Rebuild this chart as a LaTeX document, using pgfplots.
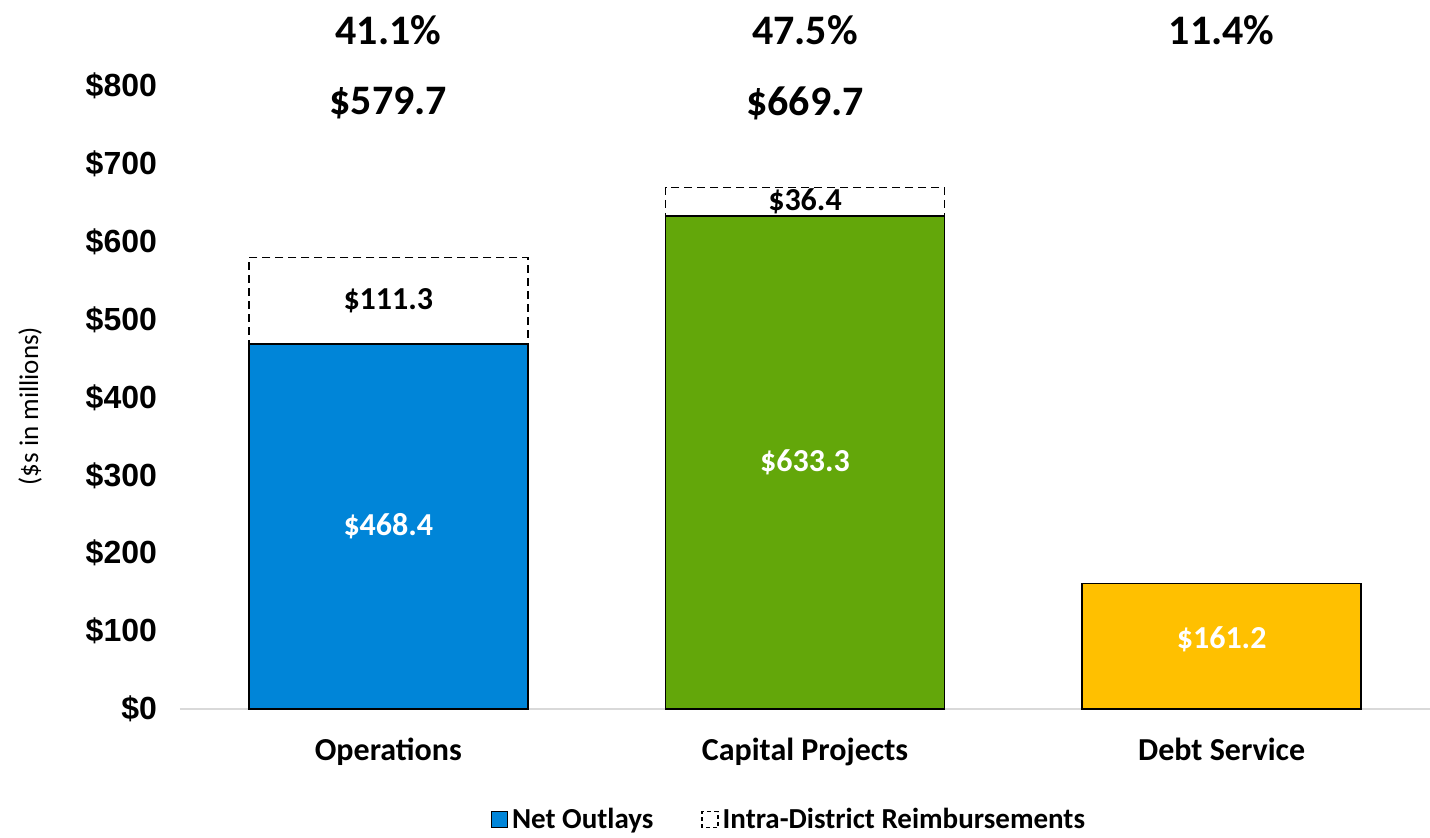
\documentclass[border=0pt]{standalone}
\usepackage{fontspec}
\setmainfont{Carlito}
\newfontfamily\arial{Liberation Sans}
\usepackage{pgfplots}
\pgfplotsset{compat=1.18}
\definecolor{opsblue}{HTML}{0085D8}
\definecolor{capgreen}{HTML}{63A70A}
\definecolor{debtyellow}{HTML}{FFC000}
\definecolor{axisgray}{HTML}{D9D9D9}

\begin{document}
\begin{tikzpicture}
\begin{axis}[name=ax,
    width=625pt, height=311.5pt, scale only axis,
    xmin=-0.5, xmax=2.5, ymin=0, ymax=800,
    ybar, bar width=139.5pt, bar shift=0pt,
    clip=false,
    axis x line*=bottom, axis y line*=left,
    x axis line style={draw=axisgray, line width=1pt},
    y axis line style={draw=none},
    major tick length=0pt, tick style={draw=none},
    xtick={0,1,2},
    xticklabels={Operations, Capital Projects, Debt Service},
    xticklabel style={font=\bfseries\fontsize{16}{19}\selectfont, yshift=-11pt},
    ytick={0,100,...,800},
    yticklabel={\$\pgfmathprintnumber{\tick}},
    /pgf/number format/assume math mode=true,
    yticklabel style={font=\arial\bfseries\fontsize{16}{19}\selectfont, xshift=-8pt},
    legend style={draw=none, fill=none, font=\bfseries\fontsize{14.5}{17}\selectfont,
        at={(rel axis cs:0.488,-0.178)}, anchor=center},
    legend columns=2,
    /tikz/every even column/.append style={column sep=22pt},
    legend image code/.code={\draw[#1] (0pt,-4pt) rectangle (8pt,4pt);},
]
% totals (dashed outline, behind)
\addplot[forget plot, draw=black, fill=white, line width=0.9pt, dash pattern=on 4pt off 2.5pt]
    coordinates {(0,579.7) (1,669.7)};
% net outlays
\addplot[forget plot, draw=black, fill=opsblue, line width=0.8pt] coordinates {(0,468.4)};
\addplot[forget plot, draw=black, fill=capgreen, line width=0.8pt] coordinates {(1,633.3)};
\addplot[forget plot, draw=black, fill=debtyellow, line width=0.8pt] coordinates {(2,161.2)};

\addlegendimage{draw=black, fill=opsblue, line width=0.6pt}
\addlegendentry{Net Outlays}
\addlegendimage{draw=black, fill=white, line width=0.6pt, dash pattern=on 2pt off 1.5pt}
\addlegendentry{Intra-District Reimbursements}

% value labels
\begin{scope}[every node/.style={font=\bfseries\fontsize{16}{19}\selectfont}]
\node[white] at (axis cs:0,234.2) {\$468.4};
\node[white] at (axis cs:1,316.6) {\$633.3};
\node[white] at (axis cs:2,89) {\$161.2};
\node at (axis cs:0,524) {\$111.3};
\node at (axis cs:1,651.5) {\$36.4};
\end{scope}
\begin{scope}[every node/.style={font=\bfseries\fontsize{21}{25}\selectfont}]
\node at (axis cs:0,778) {\$579.7};
\node at (axis cs:1,778) {\$669.7};
\node at (axis cs:0,871.6) {41.1\%};
\node at (axis cs:1,871.6) {47.5\%};
\node at (axis cs:2,871.6) {11.4\%};
\end{scope}
\node[rotate=90, font=\fontsize{13.5}{16}\selectfont] at (rel axis cs:-0.12,0.486) {(\$s in millions)};
\end{axis}
\pgfresetboundingbox
\path[use as bounding box] ([xshift=-90pt,yshift=-64.5pt]ax.south west) rectangle ([yshift=43pt]ax.north east);
\end{tikzpicture}
\end{document}
